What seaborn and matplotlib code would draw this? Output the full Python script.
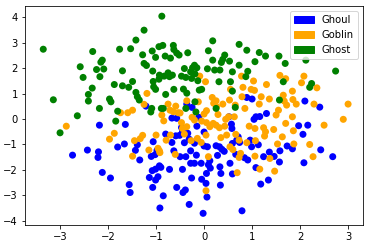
import numpy as np
import pandas as pd
import matplotlib
matplotlib.use("Agg")
import matplotlib.pyplot as plt
from matplotlib.patches import Patch
import seaborn as sns

categories = ["Ghoul", "Goblin", "Ghost"]
colors = ["blue", "orange", "green"]

ghoul_x = [-2.74, -2.43, -2.21, -2.20, -2.18, -2.12, -1.95, -1.80, -1.66, -1.64, -1.56, -1.54, -1.43, -1.39,
           -1.34, -1.21, -1.14, -1.10, -1.08, -1.07, -1.06, -1.02, -1.01, -1.01, -0.98, -0.96, -0.93, -0.92,
           -0.90, -0.85, -0.80, -0.72, -0.67, -0.67, -0.63, -0.59, -0.57, -0.51, -0.50, -0.47, -0.45, -0.44,
           -0.41, -0.39, -0.38, -0.36, -0.34, -0.31, -0.31, -0.28, -0.28, -0.26, -0.25, -0.20, -0.16, -0.15,
           -0.11, -0.06, -0.05, -0.02, 0.00, 0.00, 0.04, 0.05, 0.06, 0.07, 0.09, 0.13, 0.12, 0.25, 0.28, 0.32,
           0.33, 0.34, 0.35, 0.37, 0.42, 0.52, 0.54, 0.57, 0.58, 0.59, 0.59, 0.66, 0.68, 0.71, 0.74, 0.79,
           0.84, 0.89, 0.91, 0.96, 0.99, 1.00, 1.04, 1.08, 1.08, 1.13, 1.16, 1.18, 1.24, 1.30, 1.34, 1.36,
           1.46, 1.57, 1.58, 1.73, 1.84, 1.97, 2.06, 2.08, 2.10, 2.16, 2.41, 2.43, 2.68, -0.57, -0.45, -0.20]
ghoul_y = [-1.42, -1.22, -1.51, -1.29, -0.24, -2.10, -2.32, -1.10, -0.98, -0.21, -2.58, -2.89, -1.23, -1.01,
           -1.61, 0.51, -2.30, -1.47, -2.03, -2.69, -0.89, -1.40, -2.40, -1.97, -1.23, -2.27, -1.84, -3.50,
           -1.90, -3.02, -0.59, -1.98, 0.04, -0.92, -1.25, -0.66, -2.69, -0.64, -1.48, -0.33, -1.98, -2.89,
           -0.93, -2.79, -1.48, 0.59, -0.56, -0.79, -3.36, -1.74, -1.25, -2.32, 0.46, -1.74, -1.42, -0.28,
           0.07, -1.74, -2.37, -3.71, -0.51, -1.06, -2.53, -2.14, -3.07, -1.09, -1.80, -1.93, -1.64, -1.05,
           -1.43, -1.09, -1.88, -2.60, -2.14, -1.19, -1.27, 0.09, -1.74, -0.20, -0.37, -0.96, -2.16, -1.39,
           -0.83, -0.70, -0.92, -3.61, -1.52, 0.85, -1.61, -0.83, -1.09, 0.79, -0.01, -1.91, 0.09, -1.01,
           0.10, -2.56, -1.48, 0.22, -2.40, -1.30, -1.47, -1.69, -1.25, -1.06, -1.17, -0.26, -0.60, -1.72,
           0.71, -0.24, 0.47, -1.21, -1.48, 0.03, -0.50, -0.95]

goblin_x = [-2.87, -1.97, -1.87, -1.74, -1.59, -1.49, -1.49, -1.45, -1.33, -1.28, -1.19, -1.25, -1.15, -1.00,
            -0.96, -0.93, -0.92, -0.88, -0.84, -0.79, -0.75, -0.71, -0.70, -0.64, -0.60, -0.59, -0.54, -0.50,
            -0.47, -0.45, -0.41, -0.36, -0.36, -0.27, -0.25, -0.20, -0.12, -0.09, -0.14, -0.06, 0.03, 0.05,
            0.05, 0.04, 0.04, 0.09, 0.12, 0.17, 0.19, 0.20, 0.25, 0.25, 0.26, 0.29, 0.32, 0.35, 0.39, 0.43,
            0.45, 0.47, 0.51, 0.53, 0.54, 0.55, 0.63, 0.65, 0.66, 0.69, 0.73, 0.73, 0.78, 0.79, 0.81, 0.85,
            0.89, 0.94, 0.98, 1.03, 1.05, 1.06, 1.06, 1.07, 1.16, 1.15, 1.19, 1.24, 1.26, 1.28, 1.30, 1.36,
            1.37, 1.45, 1.47, 1.50, 1.53, 1.55, 1.58, 1.63, 1.65, 1.67, 1.70, 1.70, 1.72, 1.84, 1.84, 1.85,
            1.86, 1.87, 1.92, 2.03, 2.08, 2.20, 2.27, 2.29, 2.35, 2.50, 2.90, 3.00, 0.00, -0.05, 0.76, 0.60]
goblin_y = [-0.28, -0.79, -0.56, 0.25, 0.25, 0.35, -1.46, -0.85, -0.77, -0.64, 1.01, 0.58, -1.22, -0.63,
            -1.15, -1.25, -1.32, 0.16, -0.07, -0.83, 0.59, 0.35, -0.63, 0.29, -1.39, 0.51, 0.25, 0.24,
            -0.14, -0.37, -0.59, 0.72, -0.30, -0.85, 0.07, -0.04, 0.68, 1.69, -0.76, -0.92, 1.47, 0.33,
            -0.14, -2.82, -0.63, -1.48, -0.30, 0.85, -0.17, 0.62, 0.72, -0.24, 0.49, 0.18, -0.34, -0.73, 0.59,
            -0.28, -0.01, -0.63, 0.09, 0.75, -1.09, 1.17, 0.09, 0.55, -0.60, -2.11, -1.51, -0.83, 1.69, 0.88,
            1.25, 0.42, -0.93, -0.28, 1.17, 1.50, 1.13, -0.37, -1.46, -0.85, -1.97, 0.59, 0.88, -0.34, -0.67,
            -0.50, 1.36, 0.79, -1.55, -0.41, -2.05, 0.16, -0.98, 0.35, 1.72, -0.70, 0.94, 0.71, -0.17, 1.59,
            0.55, 1.10, 0.09, 0.77, -0.46, -0.98, 0.59, 1.43, 1.69, -1.00, -1.48, 0.59, 1.23, -0.24, -0.01,
            0.59, 0.20, -0.08, -1.35, -1.20]

ghost_x = [-3.35, -3.14, -3.00, -2.64, -2.58, -2.52, -2.41, -2.41, -2.33, -2.32, -2.24, -2.17, -2.18, -2.15,
           -2.12, -2.09, -1.97, -1.94, -1.87, -1.84, -1.80, -1.76, -1.70, -1.70, -1.57, -1.53, -1.49, -1.42,
           -1.42, -1.39, -1.35, -1.28, -1.25, -1.25, -1.20, -1.11, -1.08, -1.07, -1.06, -1.05, -1.01, -1.01,
           -0.94, -0.94, -0.93, -0.89, -0.88, -0.86, -0.83, -0.81, -0.80, -0.75, -0.72, -0.70, -0.66, -0.64,
           -0.63, -0.63, -0.57, -0.52, -0.47, -0.43, -0.41, -0.38, -0.36, -0.38, -0.34, -0.28, -0.26, -0.24,
           -0.20, -0.19, -0.19, -0.15, -0.13, -0.10, -0.05, -0.17, 0.07, 0.09, 0.18, 0.18, 0.22, 0.25, 0.31,
           0.33, 0.36, 0.39, 0.43, 0.53, 0.55, 0.59, 0.59, 0.65, 0.73, 0.73, 0.89, 0.87, 0.91, 1.06, 1.15,
           1.28, 1.56, 1.65, 1.57, 1.69, 2.12, 2.20, 2.24, 2.74, -1.09, -0.85]
ghost_y = [2.75, 0.76, -0.54, 0.13, 2.06, 1.64, 0.97, 0.71, 1.22, 2.66, 1.95, 1.67, 0.42, 2.24, 2.32, 1.97,
           0.79, 0.68, 1.36, -0.08, 0.31, 2.75, 1.90, 1.31, 1.25, 2.77, 1.48, 1.05, 3.11, 0.88, 0.75, 2.53,
           2.19, 3.50, 2.11, 0.28, 2.68, 1.89, 1.48, 1.27, 1.17, 2.43, 2.85, 1.57, 1.73, 0.42, 4.05, 2.90,
           1.69, 2.48, 0.97, 1.82, 1.67, 2.40, 1.73, 2.90, 2.74, 1.17, 2.60, 2.52, 1.69, 1.18, 1.99, 1.64,
           1.02, 0.42, 2.61, 1.86, 1.60, 2.02, 2.12, 1.78, 0.68, 2.02, 1.51, 1.14, 1.17, 0.28, 1.98, 2.69,
           3.08, 2.32, 1.93, 0.42, 1.47, 1.93, 2.23, 2.35, 2.52, 2.28, 1.47, 1.86, 1.10, 0.46, 2.94, 2.12,
           2.71, 1.67, 1.88, 2.26, 2.62, 2.48, 2.48, 1.47, 0.75, 2.19, 2.32, 1.25, 1.40, 1.89, 0.42, 0.42]

frames = []
for name, xs, ys in [("Ghoul", ghoul_x, ghoul_y), ("Goblin", goblin_x, goblin_y), ("Ghost", ghost_x, ghost_y)]:
    frames.append(pd.DataFrame({"x": xs, "y": ys, "type": name}))
df = pd.concat(frames, ignore_index=True)

fig = plt.figure(figsize=(370 / 72, 248 / 72), dpi=72)
ax = fig.add_axes([0.0676, 0.0927, 0.9134, 0.884])
sns.scatterplot(data=df, x="x", y="y", hue="type", hue_order=categories,
                palette=dict(zip(categories, colors)), s=49, linewidth=0, legend=False, ax=ax)
ax.set_xlim(-3.73, 3.31)
ax.set_ylim(-4.17, 4.46)
ax.set_xlabel("")
ax.set_ylabel("")
ax.set_xticks([-3, -2, -1, 0, 1, 2, 3])
ax.set_yticks([-4, -3, -2, -1, 0, 1, 2, 3, 4])
ax.tick_params(labelsize=10)
handles = [Patch(color=c, label=l) for c, l in zip(colors, categories)]
ax.legend(handles=handles, loc="upper right", fontsize=10)
fig.savefig("out.png", dpi=72)
